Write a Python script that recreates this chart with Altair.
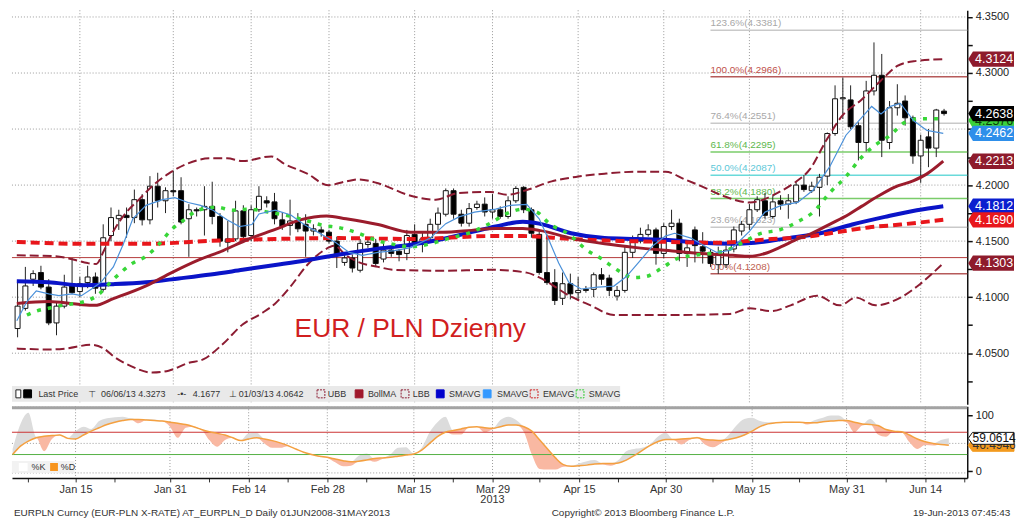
import altair as alt
import pandas as pd

# ----------------------------------------------------------------- data
# trading-day index (0 = 1 Jan 2013, weekdays only); first candle = 3 Jan 2013
first_idx = 2
opens = [4.072, 4.090, 4.116, 4.122, 4.109, 4.077, 4.092, 4.112, 4.105, 4.113,
         4.118, 4.107, 4.155, 4.170, 4.173, 4.171, 4.187, 4.169, 4.199, 4.186,
         4.195, 4.195, 4.170, 4.178, 4.178, 4.181, 4.172, 4.149, 4.152, 4.177,
         4.155, 4.178, 4.186, 4.185, 4.169, 4.164, 4.168, 4.165, 4.159, 4.160,
         4.158, 4.150, 4.131, 4.135, 4.124, 4.147, 4.148, 4.134, 4.142, 4.141,
         4.139, 4.156, 4.147, 4.153, 4.165, 4.174, 4.195, 4.174, 4.166, 4.180,
         4.183, 4.176, 4.178, 4.172, 4.186, 4.198, 4.178, 4.156, 4.122, 4.113,
         4.099, 4.112, 4.104, 4.107, 4.107, 4.120, 4.117, 4.101, 4.106, 4.140,
         4.150, 4.156, 4.160, 4.139, 4.163, 4.166, 4.139, 4.160, 4.145, 4.140,
         4.129, 4.129, 4.143, 4.159, 4.165, 4.178, 4.186, 4.172, 4.186, 4.183,
         4.185, 4.200, 4.195, 4.198, 4.208, 4.246, 4.277, 4.276, 4.253, 4.238,
         4.284, 4.298, 4.238, 4.269, 4.275, 4.260, 4.226, 4.243, 4.233, 4.266]
highs = [4.115, 4.127, 4.124, 4.128, 4.116, 4.096, 4.120, 4.135, 4.118, 4.128,
         4.122, 4.165, 4.180, 4.178, 4.180, 4.196, 4.192, 4.208, 4.211, 4.198,
         4.213, 4.207, 4.183, 4.180, 4.199, 4.203, 4.175, 4.168, 4.186, 4.182,
         4.182, 4.199, 4.190, 4.193, 4.176, 4.187, 4.175, 4.174, 4.165, 4.163,
         4.160, 4.154, 4.140, 4.138, 4.152, 4.153, 4.152, 4.150, 4.146, 4.143,
         4.160, 4.165, 4.158, 4.170, 4.180, 4.197, 4.197, 4.178, 4.184, 4.186,
         4.189, 4.192, 4.181, 4.190, 4.199, 4.199, 4.180, 4.160, 4.156, 4.125,
         4.122, 4.121, 4.118, 4.110, 4.122, 4.126, 4.120, 4.110, 4.145, 4.155,
         4.162, 4.165, 4.162, 4.166, 4.178, 4.170, 4.148, 4.163, 4.158, 4.143,
         4.145, 4.146, 4.163, 4.168, 4.183, 4.190, 4.193, 4.190, 4.191, 4.192,
         4.203, 4.209, 4.203, 4.210, 4.247, 4.289, 4.296, 4.289, 4.256, 4.293,
         4.3273, 4.317, 4.275, 4.290, 4.280, 4.262, 4.245, 4.250, 4.268, 4.268]
lows = [4.0642, 4.088, 4.110, 4.107, 4.075, 4.066, 4.090, 4.103, 4.100, 4.108,
        4.103, 4.105, 4.150, 4.160, 4.153, 4.166, 4.164, 4.165, 4.180, 4.175,
        4.190, 4.165, 4.136, 4.172, 4.155, 4.165, 4.145, 4.140, 4.150, 4.150,
        4.150, 4.176, 4.180, 4.165, 4.160, 4.155, 4.158, 4.136, 4.155, 4.154,
        4.148, 4.126, 4.128, 4.122, 4.122, 4.144, 4.127, 4.131, 4.136, 4.132,
        4.133, 4.145, 4.140, 4.150, 4.160, 4.172, 4.170, 4.163, 4.163, 4.178,
        4.172, 4.170, 4.170, 4.170, 4.184, 4.175, 4.153, 4.120, 4.111, 4.093,
        4.093, 4.098, 4.097, 4.104, 4.100, 4.111, 4.101, 4.097, 4.104, 4.135,
        4.148, 4.154, 4.129, 4.135, 4.160, 4.132, 4.127, 4.131, 4.130, 4.127,
        4.1208, 4.126, 4.140, 4.155, 4.160, 4.176, 4.170, 4.170, 4.178, 4.170,
        4.183, 4.194, 4.193, 4.172, 4.200, 4.244, 4.259, 4.250, 4.222, 4.230,
        4.280, 4.225, 4.232, 4.262, 4.253, 4.219, 4.202, 4.216, 4.225, 4.262]
closes = [4.092, 4.110, 4.121, 4.109, 4.077, 4.092, 4.109, 4.104, 4.112, 4.118,
          4.108, 4.153, 4.171, 4.173, 4.171, 4.187, 4.169, 4.199, 4.186, 4.195,
          4.194, 4.167, 4.178, 4.177, 4.181, 4.172, 4.150, 4.152, 4.177, 4.154,
          4.178, 4.190, 4.184, 4.170, 4.163, 4.168, 4.161, 4.159, 4.161, 4.158,
          4.150, 4.137, 4.135, 4.126, 4.148, 4.149, 4.130, 4.142, 4.139, 4.138,
          4.155, 4.147, 4.152, 4.165, 4.175, 4.195, 4.174, 4.166, 4.179, 4.183,
          4.176, 4.178, 4.172, 4.186, 4.197, 4.178, 4.157, 4.122, 4.113, 4.097,
          4.112, 4.103, 4.106, 4.106, 4.120, 4.116, 4.106, 4.106, 4.140, 4.150,
          4.156, 4.160, 4.139, 4.163, 4.166, 4.139, 4.144, 4.146, 4.141, 4.130,
          4.139, 4.142, 4.160, 4.165, 4.178, 4.187, 4.173, 4.185, 4.183, 4.186,
          4.200, 4.196, 4.199, 4.207, 4.246, 4.277, 4.278, 4.252, 4.238, 4.284,
          4.298, 4.240, 4.269, 4.273, 4.260, 4.226, 4.240, 4.233, 4.267, 4.2638]

tick_idx = [10, 22, 32, 42, 53, 63, 74, 85, 96, 108, 118]
tick_lbl = ["Jan 15", "Jan 31", "Feb 14", "Feb 28", "Mar 15", "Mar 29",
            "Apr 15", "Apr 30", "May 15", "May 31", "Jun 14"]
minor_idx = [4, 15, 27, 37, 47, 58, 69, 79, 91, 102, 113, 123]
year_idx, year_lbl = 63, "2013"
price_grid = [4.05, 4.10, 4.15, 4.20, 4.25, 4.30, 4.35]

# Bollinger upper / lower, Bollinger MA
ubb_i = [1.9, 6.9, 9.0, 11.0, 12.1, 13.1, 14.3, 16.0, 17.7, 19.3, 21.4, 23.7, 26.8, 28.9, 30.9,
         34.6, 36.3, 39.2, 41.9, 44.2, 45.8, 48.3, 52.5, 55.7, 58.7, 62.8, 64.9, 67.4, 70.6, 74.0,
         77.4, 81.5, 85.2, 87.7, 89.8, 92.6, 96.0, 100.1, 101.7, 103.8, 105.9, 107.9, 110.4,
         112.9, 115.0, 117.1, 120.9]
ubb_v = [4.1373, 4.1365, 4.1339, 4.1304, 4.1296, 4.1416, 4.1587, 4.1759, 4.1879, 4.1991, 4.2102,
         4.2188, 4.2239, 4.2239, 4.2214, 4.2256, 4.2188, 4.2102, 4.1999, 4.2033, 4.2051, 4.2016,
         4.1905, 4.1870, 4.1930, 4.1939, 4.1913, 4.1956, 4.2033, 4.2076, 4.2102, 4.2119, 4.2119,
         4.2051, 4.1991, 4.1905, 4.1845, 4.1948, 4.2016, 4.2145, 4.2402, 4.2617, 4.2762, 4.2934,
         4.3063, 4.3105, 4.3124]
lbb_i = [1.9, 6.0, 8.1, 11.5, 13.1, 14.3, 16.5, 19.3, 21.4, 23.9, 25.9, 28.4, 30.9, 33.4, 35.1,
         37.1, 39.2, 41.3, 42.7, 44.2, 45.8, 48.3, 50.4, 56.6, 62.8, 67.4, 69.0, 73.1, 75.6, 78.6,
         81.5, 86.4, 93.5, 96.0, 98.9, 101.3, 104.7, 107.6, 109.7, 112.2, 115.4, 117.9, 120.9]
lbb_v = [4.0541, 4.0533, 4.0541, 4.0575, 4.0541, 4.0473, 4.0387, 4.0327, 4.0344, 4.0412, 4.0447,
         4.0584, 4.0756, 4.0858, 4.0944, 4.1099, 4.1287, 4.1416, 4.1459, 4.1373, 4.1313, 4.1270,
         4.1244, 4.1236, 4.1244, 4.1219, 4.1176, 4.1004, 4.0927, 4.0841, 4.0841, 4.0841, 4.0850,
         4.0901, 4.0876, 4.0927, 4.1013, 4.0927, 4.0996, 4.0927, 4.0996, 4.1116, 4.1303]
bma_i = [1.9, 6.0, 9.8, 11.9, 14.3, 18.5, 21.8, 25.2, 28.4, 31.7, 35.1, 38.3, 41.7, 44.2, 48.3,
         52.5, 56.6, 60.3, 63.4, 66.9, 69.0, 73.1, 77.4, 81.5, 85.6, 89.8, 93.9, 96.0, 98.0, 100.1,
         102.2, 103.8, 106.3, 108.8, 110.4, 112.5, 114.6, 117.1, 118.8, 120.9]
bma_v = [4.0944, 4.0961, 4.0936, 4.0927, 4.0987, 4.1101, 4.1219, 4.1330, 4.1416, 4.1519, 4.1605,
         4.1690, 4.1725, 4.1699, 4.1648, 4.1579, 4.1579, 4.1596, 4.1613, 4.1613, 4.1596, 4.1527,
         4.1476, 4.1442, 4.1416, 4.1390, 4.1373, 4.1365, 4.1390, 4.1450, 4.1519, 4.1562, 4.1650,
         4.1740, 4.1810, 4.1900, 4.1980, 4.2040, 4.2100, 4.2213]
# long simple MA (blue), long EMA (red dashed)
sma_i = [1.9, 6.0, 10.2, 14.3, 18.5, 22.7, 26.8, 30.9, 35.1, 39.2, 44.2, 48.3, 52.5, 56.6, 60.7,
         63.4, 66.9, 69.0, 73.1, 77.4, 81.5, 85.6, 89.8, 93.9, 96.7, 101.0, 105.1, 109.2, 113.4,
         117.5, 120.9]
sma_v = [4.1142, 4.1133, 4.1107, 4.1116, 4.1133, 4.1167, 4.1202, 4.1244, 4.1287, 4.1330, 4.1390,
         4.1433, 4.1467, 4.1519, 4.1587, 4.1630, 4.1673, 4.1656, 4.1570, 4.1527, 4.1519, 4.1510,
         4.1485, 4.1476, 4.1485, 4.1527, 4.1570, 4.1648, 4.1716, 4.1776, 4.1812]
ema_i = [1.9, 10.2, 18.5, 26.8, 35.1, 43.3, 52.5, 62.8, 66.9, 73.1, 79.3, 85.6, 91.8, 98.9,
         103.0, 107.2, 111.3, 115.4, 120.9]
ema_v = [4.1493, 4.1476, 4.1476, 4.1502, 4.1519, 4.1527, 4.1519, 4.1545, 4.1545, 4.1519, 4.1502,
         4.1493, 4.1485, 4.1519, 4.1536, 4.1579, 4.1622, 4.1648, 4.1690]
# short simple MA (light blue), medium simple MA (green dashed)
fast_i = [1.9, 3.2, 4.4, 6.0, 7.3, 9.0, 10.2, 11.5, 12.7, 14.3, 15.6, 16.8, 18.5, 20.6, 22.2,
          23.9, 25.5, 27.1, 28.9, 30.5, 32.1, 33.0, 35.1, 37.1, 38.8, 40.8, 42.9, 44.6, 46.3,
          48.3, 50.4, 52.5, 55.0, 57.0, 58.7, 60.7, 63.4, 65.3, 67.4, 69.0, 70.3, 71.5, 72.8,
          74.4, 76.5, 78.6, 80.2, 81.8, 83.6, 85.2, 86.4, 88.5, 90.2, 91.8, 93.5, 96.0, 98.0,
          100.1, 102.2, 104.2, 106.3, 108.4, 111.7, 112.9, 114.1, 115.4, 117.1, 118.8, 120.9]
fast_v = [4.0790, 4.0961, 4.1056, 4.1030, 4.1013, 4.1030, 4.1013, 4.1073, 4.1133, 4.1270, 4.1476,
          4.1699, 4.1819, 4.1870, 4.1888, 4.1845, 4.1819, 4.1776, 4.1690, 4.1630, 4.1648, 4.1742,
          4.1776, 4.1733, 4.1648, 4.1570, 4.1485, 4.1399, 4.1373, 4.1399, 4.1416, 4.1442, 4.1527,
          4.1656, 4.1716, 4.1759, 4.1785, 4.1819, 4.1828, 4.1699, 4.1502, 4.1304, 4.1133, 4.1073,
          4.1090, 4.1099, 4.1184, 4.1313, 4.1459, 4.1545, 4.1570, 4.1527, 4.1459, 4.1399, 4.1416,
          4.1587, 4.1759, 4.1819, 4.1845, 4.1956, 4.2162, 4.2445, 4.2702, 4.2634, 4.2702, 4.2728,
          4.2574, 4.2488, 4.2462]
slow_i = [3.2, 4.4, 6.0, 7.8, 9.4, 10.6, 12.2, 14.3, 16.8, 18.5, 20.2, 21.8, 23.4, 25.2, 27.6,
          29.6, 31.7, 34.2, 36.3, 38.8, 40.8, 43.8, 45.8, 48.3, 50.0, 52.5, 55.0, 57.5, 59.9,
          62.4, 65.3, 66.9, 68.7, 70.3, 72.8, 75.2, 76.9, 79.0, 81.1, 82.7, 84.8, 86.8, 88.9,
          91.0, 93.0, 95.1, 97.2, 100.1, 102.2, 104.2, 106.3, 108.4, 110.4, 112.2, 114.1, 115.9,
          117.9, 120.4]
slow_v = [4.0841, 4.0876, 4.0901, 4.0927, 4.0944, 4.0961, 4.1013, 4.1159, 4.1304, 4.1365, 4.1476,
          4.1605, 4.1690, 4.1776, 4.1802, 4.1776, 4.1785, 4.1759, 4.1733, 4.1690, 4.1648, 4.1613,
          4.1570, 4.1502, 4.1476, 4.1450, 4.1476, 4.1527, 4.1570, 4.1648, 4.1759, 4.1785, 4.1759,
          4.1656, 4.1562, 4.1416, 4.1347, 4.1244, 4.1176, 4.1184, 4.1262, 4.1347, 4.1373, 4.1390,
          4.1416, 4.1485, 4.1562, 4.1605, 4.1673, 4.1759, 4.1930, 4.2076, 4.2248, 4.2359, 4.2445,
          4.2557, 4.2591, 4.2591]

support_level = 4.1353
fib_start = 91
fib_pct = ["123.6%", "100.0%", "76.4%", "61.8%", "50.0%", "38.2%", "23.6%", "0.0%"]
fib_val = [4.3381, 4.2966, 4.2551, 4.2295, 4.2087, 4.1880, 4.1623, 4.1208]

tag_val = [4.3124, 4.2576, 4.2638, 4.2462, 4.2213, 4.1812, 4.1690, 4.1303]

legend_hi = "06/06/13 4.3273"
legend_avg = "4.1677"
legend_lo = "01/03/13 4.0642"

# slow stochastic (%K, %D), one value per trading day from index 2
stoch_d = [30, 45, 54, 60, 63, 64, 65, 59, 58, 65,
           72, 78, 84, 88, 91, 93, 93, 92, 91, 90,
           88, 86, 84, 80, 75, 71, 68, 65, 60, 55,
           58, 60, 58, 55, 51, 46, 40, 34, 30, 27,
           25, 22, 19, 17, 18, 20, 23, 24, 25, 27,
           29, 31, 38, 50, 62, 70, 73, 76, 79, 80,
           78, 77, 80, 83, 83, 80, 72, 56, 40, 24,
           12, 9, 10, 11, 13, 14, 14, 15, 20, 28,
           37, 46, 53, 57, 57, 58, 59, 60, 57, 56,
           55, 57, 60, 65, 72, 80, 85, 87, 88, 88,
           88, 87, 87, 89, 90, 91, 91, 88, 85, 84,
           82, 75, 72, 71, 65, 58, 53, 50, 48, 46.4946]
stoch_k = [40, 85, 105, 62, 36, 58, 66, 60, 72, 80,
           76, 90, 95, 97, 98, 95, 86, 94, 93, 91,
           80, 60, 78, 80, 76, 56, 44, 56, 60, 56,
           68, 69, 50, 42, 42, 45, 40, 34, 30, 26,
           24, 16, 9, 10, 28, 32, 17, 22, 30, 42,
           43, 32, 42, 70, 88, 98, 66, 66, 80, 80,
           70, 75, 92, 98, 92, 70, 30, 4, 3, 3,
           8, 10, 14, 18, 20, 12, 10, 20, 36, 40,
           42, 48, 62, 69, 56, 48, 56, 62, 48, 43,
           50, 65, 82, 94, 96, 90, 88, 88, 88, 89,
           88, 84, 92, 96, 100, 100, 88, 70, 82, 94,
           66, 62, 72, 70, 52, 40, 47, 46, 56, 59.0614]
stoch_over, stoch_under = 70, 30
stoch_grid = [115, 50, -3]

# ----------------------------------------------------------------- layout / style
FONT = "Liberation Sans"
W, H1, H2 = 960, 396, 72
SX = W / 977.0
XMIN, XMAX = 1.92, 123.34
xs = alt.Scale(domain=[XMIN, XMAX], nice=False, zero=False)
ys = alt.Scale(domain=[4.0044, 4.356], nice=False, zero=False)
ss = alt.Scale(domain=[-12, 116.6], nice=False, zero=False)
GRID = dict(color="#9a9a9a", strokeDash=[1, 2], strokeWidth=1)

y_ticks = [round(4.025 + 0.025 * k, 3) for k in range(14)]
yaxis = alt.Axis(orient="right", values=y_ticks, grid=False, tickSize=5, tickWidth=1.5,
                 tickColor="#111", domainColor="#111", domainWidth=1.5, labelFont=FONT,
                 labelFontSize=11, labelColor="#222", labelPadding=3, title=None,
                 labelExpr="round(datum.value*1000) % 50 == 0 ? format(datum.value, '.4f') : ''")
saxis = alt.Axis(orient="right", values=[0, 100], grid=False, tickSize=5, tickWidth=1.5,
                 tickColor="#111", domainColor="#111", domainWidth=1.5, labelFont=FONT,
                 labelFontSize=11, labelColor="#222", labelPadding=3, title=None)
xl_expr = " : ".join(f"datum.value == {i} ? '{t}'" for i, t in zip(tick_idx, tick_lbl)) + " : ''"
xaxis_low = alt.Axis(orient="bottom", values=sorted(tick_idx + minor_idx), labelExpr=xl_expr,
                     grid=False, tickSize=4, tickColor="#333", domainColor="#111", domainWidth=1.5,
                     labelFont=FONT, labelFontSize=11, labelColor="#333", labelPadding=2,
                     labelOverlap=False, labelFlush=False, title=None)


def X(f="i"):
    return alt.X(f"{f}:Q", scale=xs, axis=None, title=None)


def Y(f="v"):
    return alt.Y(f"{f}:Q", scale=ys, axis=yaxis, title=None)


def XL(f="i"):
    return alt.X(f"{f}:Q", scale=xs, axis=xaxis_low, title=None)


def YS(f="v"):
    return alt.Y(f"{f}:Q", scale=ss, axis=saxis, title=None)


one = pd.DataFrame({"a": [0]})

# ----------------------------------------------------------------- main panel
L = []
L.append(alt.Chart(pd.DataFrame({"v": price_grid})).mark_rule(**GRID)
         .encode(y=Y("v"), x=alt.value(0), x2=alt.value(W)))
L.append(alt.Chart(pd.DataFrame({"i": tick_idx})).mark_rule(**GRID)
         .encode(x=X("i"), y=alt.value(0), y2=alt.value(H1)))
L.append(alt.Chart(pd.DataFrame({"v": [support_level]})).mark_rule(color="#B33A3A", strokeWidth=1)
         .encode(y=Y("v"), x=alt.value(0), x2=alt.value(W)))

fib_line_col = ["#C9C9C9", "#B65A5A", "#C9C9C9", "#7ACC6A", "#6ADADA", "#7ACC6A", "#C9C9C9", "#B65A5A"]
fib_text_col = ["#A8A8A8", "#C0504A", "#A8A8A8", "#5DB84E", "#5CC8D8", "#5DB84E", "#A8A8A8", "#C0604F"]
fdf = pd.DataFrame({"v": fib_val, "i": [fib_start] * len(fib_val),
                    "lab": [f"{p}({v:.4f})" for p, v in zip(fib_pct, fib_val)],
                    "lc": fib_line_col, "tc": fib_text_col})
L.append(alt.Chart(fdf).mark_rule(strokeWidth=1.5)
         .encode(x=X("i"), x2=alt.value(W), y=Y("v"), color=alt.Color("lc:N", scale=None)))
L.append(alt.Chart(fdf).mark_text(align="left", baseline="middle", dy=-7, font=FONT, fontSize=10)
         .encode(x=X("i"), y=Y("v"), text="lab:N", color=alt.Color("tc:N", scale=None)))

cdf = pd.DataFrame({"i": [first_idx + k for k in range(len(opens))],
                    "o": opens, "h": highs, "l": lows, "c": closes})
L.append(alt.Chart(cdf).mark_rule(color="#222", strokeWidth=1)
         .encode(x=X("i"), y=Y("l"), y2=alt.Y2("h")))
L.append(alt.Chart(cdf).mark_bar(size=5, stroke="#111", strokeWidth=1)
         .encode(x=X("i"), y=Y("o"), y2=alt.Y2("c"),
                 color=alt.condition("datum.c >= datum.o", alt.value("white"), alt.value("black"))))


def line(idx, vals, color, width, dash=None, interp="monotone"):
    kw = dict(color=color, strokeWidth=width, interpolate=interp)
    if dash:
        kw["strokeDash"] = dash
    return alt.Chart(pd.DataFrame({"i": idx, "v": vals})).mark_line(**kw).encode(x=X("i"), y=Y("v"))


L.append(line(ubb_i, ubb_v, "#8C1C32", 2, [9, 4]))
L.append(line(lbb_i, lbb_v, "#8C1C32", 2, [9, 4]))
L.append(line(sma_i, sma_v, "#0A14C8", 4))
L.append(line(ema_i, ema_v, "#E8161B", 4, [9, 5]))
L.append(line(bma_i, bma_v, "#9B1C2C", 3))
L.append(line(slow_i, slow_v, "#38D638", 3.5, [4, 7]))
L.append(line(fast_i, fast_v, "#4A90D9", 1.2, None, "linear"))

L.append(alt.Chart(one).mark_text(text="EUR / PLN Dzienny", align="left", baseline="alphabetic",
                                  font=FONT, fontSize=26.5, color="#D11F1F")
         .encode(x=alt.value(289 * SX), y=alt.value(328)))

TAG = "M-1.15,0 L-0.93,-0.36 L1,-0.36 L1,0.36 L-0.93,0.36 Z"
tag_bg = ["#8E1B2C", "#3BD23B", "#000000", "#2E8FEA", "#8E1B2C", "#0A1ECF", "#E8171C", "#8E1B2C"]
tag_fg = ["white", "#0a3a0a", "white", "white", "white", "white", "white", "white"]
for v, bg, fg in zip(tag_val, tag_bg, tag_fg):
    d = pd.DataFrame({"v": [v], "t": [f"{v:.4f}"]})
    L.append(alt.Chart(d).mark_point(shape=TAG, size=1830, filled=True, opacity=1, fill=bg,
                                     strokeWidth=0)
             .encode(x=alt.value(W + 25.6), y=Y("v")))
    L.append(alt.Chart(d).mark_text(font=FONT, fontSize=12.5, align="center", baseline="middle",
                                    color=fg)
             .encode(x=alt.value(W + 27), y=Y("v"), text="t:N"))

# legend row
LY = 385.5
L.append(alt.Chart(one).mark_rect(color="#E9E9E9")
         .encode(x=alt.value(0), x2=alt.value(622 * SX), y=alt.value(377.5), y2=alt.value(393.5)))
sw = [(4, 9, "white", "#222", None), (12, 20, "black", "black", None),
      (312, 320, "#E9E9E9", "#8C1C32", [2, 1]), (351, 359, "#A0182C", "#A0182C", None),
      (398, 406, "#E9E9E9", "#8C1C32", [2, 1]), (434, 442, "#0000CC", "#0000CC", None),
      (482, 490, "#3399FF", "#3399FF", None), (530, 538, "#E9E9E9", "#D02020", [2, 1]),
      (577, 585, "#E9E9E9", "#33CC33", [2, 1])]
for x0, x1, fill, stroke, dash in sw:
    kw = dict(fill=fill, stroke=stroke, strokeWidth=1)
    if dash:
        kw["strokeDash"] = dash
    L.append(alt.Chart(one).mark_rect(**kw)
             .encode(x=alt.value(x0 * SX), x2=alt.value(x1 * SX), y=alt.value(LY - 4), y2=alt.value(LY + 4)))
leg_items = [("Last Price", 27, FONT), ("\u22a4", 78, "DejaVu Sans"), (legend_hi, 91, FONT),
             ("-\u2022-", 169, FONT), (legend_avg, 185, FONT), ("\u22a5", 222, "DejaVu Sans"),
             (legend_lo, 232, FONT), ("UBB", 323, FONT), ("BollMA", 364, FONT), ("LBB", 410, FONT),
             ("SMAVG", 447, FONT), ("SMAVG", 496, FONT), ("EMAVG", 543, FONT), ("SMAVG", 590, FONT)]
for t, x0, fnt in leg_items:
    L.append(alt.Chart(one).mark_text(text=t, align="left", baseline="middle", font=fnt,
                                      fontSize=9, color="#333")
             .encode(x=alt.value(x0 * SX), y=alt.value(LY)))

main = alt.layer(*L).properties(width=W, height=H1)

# ----------------------------------------------------------------- stochastic panel
sdf = pd.DataFrame({"i": [first_idx + k for k in range(len(stoch_d))], "K": stoch_k, "D": stoch_d})
sdf["hi"] = sdf[["K", "D"]].max(axis=1)
sdf["lo"] = sdf[["K", "D"]].min(axis=1)

S = []
S.append(alt.Chart(pd.DataFrame({"v": stoch_grid})).mark_rule(**GRID)
         .encode(y=YS("v"), x=alt.value(0), x2=alt.value(W)))
S.append(alt.Chart(pd.DataFrame({"i": tick_idx})).mark_rule(**GRID)
         .encode(x=XL("i"), y=alt.value(0), y2=alt.value(H2)))
S.append(alt.Chart(sdf).mark_area(color="#DCDCDC", interpolate="monotone")
         .encode(x=XL("i"), y=YS("D"), y2=alt.Y2("hi")))
S.append(alt.Chart(sdf).mark_area(color="#F9B8A2", interpolate="monotone")
         .encode(x=XL("i"), y=YS("lo"), y2=alt.Y2("D")))
S.append(alt.Chart(pd.DataFrame({"v": [stoch_over]})).mark_rule(color="#CC3333", strokeWidth=1)
         .encode(y=YS("v"), x=alt.value(0), x2=alt.value(W)))
S.append(alt.Chart(pd.DataFrame({"v": [stoch_under]})).mark_rule(color="#55B045", strokeWidth=1)
         .encode(y=YS("v"), x=alt.value(0), x2=alt.value(W)))
S.append(alt.Chart(sdf).mark_line(color="#F4A040", strokeWidth=1.5, interpolate="monotone")
         .encode(x=XL("i"), y=YS("D")))
S.append(alt.Chart(one).mark_rule(color="#A3A3A3", strokeWidth=3)
         .encode(x=alt.value(0), x2=alt.value(W), y=alt.value(1.5)))

TAG2 = "M-1.15,0 L-0.95,-0.28 L1,-0.28 L1,0.28 L-0.95,0.28 Z"
for v, bg, st, fg in [(stoch_d[-1], "#F39A1E", "#F39A1E", "#333"), (stoch_k[-1], "white", "#111", "#111")]:
    d = pd.DataFrame({"v": [v], "t": [f"{v:.4f}"]})
    S.append(alt.Chart(d).mark_point(shape=TAG2, size=1830, filled=True, opacity=1, fill=bg,
                                     stroke=st, strokeWidth=1)
             .encode(x=alt.value(W + 25.6), y=YS("v")))
    S.append(alt.Chart(d).mark_text(font=FONT, fontSize=12, align="center", baseline="middle", color=fg)
             .encode(x=alt.value(W + 27), y=YS("v"), text="t:N"))

SLY = 61
S.append(alt.Chart(one).mark_rect(color="#F1F1F1", opacity=0.9)
         .encode(x=alt.value(0), x2=alt.value(64 * SX), y=alt.value(SLY - 6), y2=alt.value(SLY + 6)))
S.append(alt.Chart(one).mark_rect(fill="white")
         .encode(x=alt.value(7 * SX), x2=alt.value(16 * SX), y=alt.value(SLY - 4), y2=alt.value(SLY + 4)))
S.append(alt.Chart(one).mark_rect(fill="#F7941D")
         .encode(x=alt.value(39 * SX), x2=alt.value(47 * SX), y=alt.value(SLY - 4), y2=alt.value(SLY + 4)))
for t, x0 in [("%K", 20), ("%D", 50)]:
    S.append(alt.Chart(one).mark_text(text=t, align="left", baseline="middle", font=FONT,
                                      fontSize=9, color="#333")
             .encode(x=alt.value(x0 * SX), y=alt.value(SLY)))

S.append(alt.Chart(pd.DataFrame({"i": [year_idx], "t": [year_lbl]}))
         .mark_text(font=FONT, fontSize=11, color="#333", baseline="middle")
         .encode(x=XL("i"), y=alt.value(H2 + 22), text="t:N"))
foot = [("EURPLN Curncy (EUR-PLN X-RATE) AT_EURPLN_D  Daily 01JUN2008-31MAY2013", 2, "left"),
        ("Copyright\u00a9 2013 Bloomberg Finance L.P.", 552, "left"),
        ("19-Jun-2013 07:45:43", 1021, "right")]
for t, x0, al in foot:
    S.append(alt.Chart(one).mark_text(text=t, align=al, baseline="middle", font=FONT,
                                      fontSize=10, color="#333")
             .encode(x=alt.value(x0 * SX), y=alt.value(H2 + 35)))

lower = alt.layer(*S).properties(width=W, height=H2)

chart = (alt.vconcat(main, lower, spacing=0)
         .properties(padding={"left": 0, "top": 0, "right": 0, "bottom": 0}, background="white")
         .configure_view(stroke=None))

chart.save("out.html", embed_options={"renderer": "svg", "actions": False})
